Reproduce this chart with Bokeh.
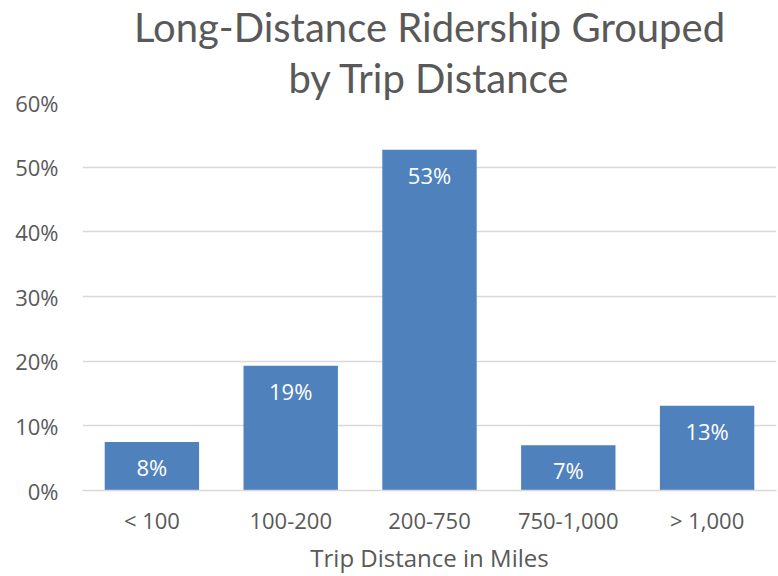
from bokeh.plotting import figure
from bokeh.models import ColumnDataSource, Title, NumeralTickFormatter, FixedTicker, Range1d
from bokeh.embed import file_html
from bokeh.resources import INLINE
from bokeh.core.properties import value

categories = ["< 100", "100-200", "200-750", "750-1,000", "> 1,000"]
shares = [0.075, 0.193, 0.527, 0.070, 0.131]
labels = ["8%", "19%", "53%", "7%", "13%"]
y_ticks = [0, 0.1, 0.2, 0.3, 0.4, 0.5, 0.6]
title_lines = ["Long-Distance Ridership Grouped", "by Trip Distance"]

FONT = "Open Sans"
TFONT = "Lato"
GREY = "#595959"
BLUE = "#4F81BD"

src = ColumnDataSource(dict(cat=categories, val=shares, lab=labels))

p = figure(x_range=categories, y_range=Range1d(0, 0.6), width=778, height=576,
           output_backend="svg", toolbar_location=None,
           min_border_left=82, min_border_right=2, min_border_top=100, min_border_bottom=60)
p.title = None
p.add_layout(Title(text=title_lines[1], align="center", text_font=TFONT,
                   text_font_size="40px", text_font_style="normal", text_color=GREY,
                   standoff=2), "above")
p.add_layout(Title(text=title_lines[0], align="center", text_font=TFONT,
                   text_font_size="40px", text_font_style="normal", text_color=GREY,
                   standoff=0), "above")

p.vbar(x="cat", top="val", width=0.68, source=src, fill_color=BLUE, line_color=None)
p.text(x="cat", y="val", text="lab", source=src, text_color="white",
       text_font=value(FONT), text_font_size="22px", text_align="center",
       text_baseline="middle", y_offset=25)

p.outline_line_color = None
p.xgrid.grid_line_color = None
p.ygrid.grid_line_color = "#d9d9d9"
p.ygrid.grid_line_width = 1.5
p.yaxis.ticker = FixedTicker(ticks=y_ticks)
p.yaxis.formatter = NumeralTickFormatter(format="0%")
p.yaxis.axis_line_color = None
p.yaxis.major_tick_line_color = None
p.yaxis.minor_tick_line_color = None
p.yaxis.major_label_text_font = FONT
p.yaxis.major_label_text_font_size = "22px"
p.yaxis.major_label_text_color = GREY
p.yaxis.major_label_standoff = 18

p.xaxis.axis_line_color = "#d9d9d9"
p.xaxis.axis_line_width = 1.5
p.xaxis.major_tick_line_color = None
p.xaxis.minor_tick_line_color = None
p.xaxis.major_label_text_font = FONT
p.xaxis.major_label_text_font_size = "22px"
p.xaxis.major_label_text_color = GREY
p.xaxis.major_label_standoff = 8
p.xaxis.axis_label = "Trip Distance in Miles"
p.xaxis.axis_label_text_font = FONT
p.xaxis.axis_label_text_font_size = "24px"
p.xaxis.axis_label_text_font_style = "normal"
p.xaxis.axis_label_text_color = GREY
p.xaxis.axis_label_standoff = 3
p.x_range.range_padding = 0

open("out.html", "w").write(file_html(p, INLINE))
